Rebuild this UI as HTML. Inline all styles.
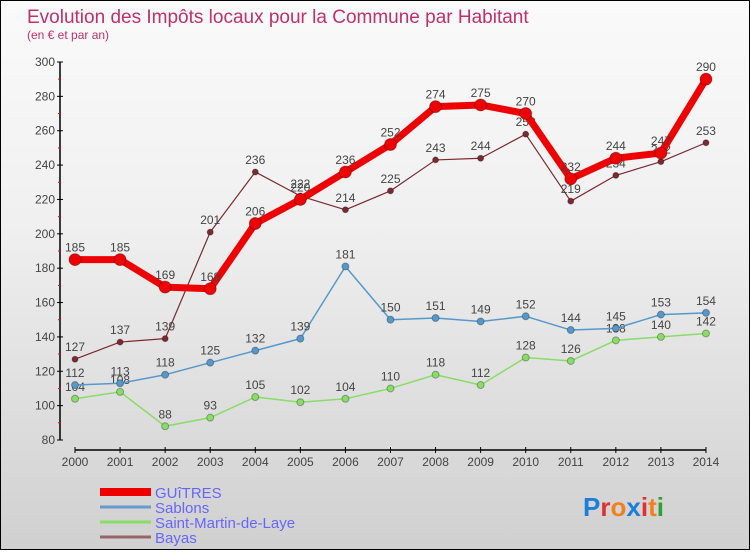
<!DOCTYPE html>
<html><head><meta charset="utf-8"><style>
body{margin:0;width:750px;height:550px;overflow:hidden;font-family:"Liberation Sans",sans-serif}
#wrap{position:relative;width:748px;height:548px;border:1px solid #000;background:linear-gradient(#fafafa,#f0f0f0 40%,#d0d0d0)}
</style></head><body>
<div id="wrap">
<svg id="chart" width="748" height="548"></svg>
</div>
<script>
const years=[2000,2001,2002,2003,2004,2005,2006,2007,2008,2009,2010,2011,2012,2013,2014];
const yTicks=[80,100,120,140,160,180,200,220,240,260,280,300];
const guitres=[185,185,169,168,206,220,236,252,274,275,270,232,244,247,290];
const sablons=[112,113,118,125,132,139,181,150,151,149,152,144,145,153,154];
const stmartin=[104,108,88,93,105,102,104,110,118,112,128,126,138,140,142];
const bayas=[127,137,139,201,236,222,214,225,243,244,258,219,234,242,253];
const seriesNames=["GUîTRES","Sablons","Saint-Martin-de-Laye","Bayas"];
const NS="http://www.w3.org/2000/svg";
const svg=document.getElementById('chart');
const x=i=>74+i*45.07;
const y=v=>439-(v-80)*(378/220);
function el(t,a,p){const e=document.createElementNS(NS,t);for(const k in a)e.setAttribute(k,a[k]);(p||svg).appendChild(e);return e;}
function txt(s,a,name){const e=el('text',a);e.textContent=s;return e;}
txt("Evolution des Impôts locaux pour la Commune par Habitant",{x:26,y:22,'font-size':19,fill:'#c0306a'},'chart-title');
txt("(en € et par an)",{x:26,y:38,'font-size':12,fill:'#c0306a'},'chart-subtitle');
// y axis
let ax=el('line',{x1:59,y1:y(300),x2:59,y2:y(80),stroke:'#000','stroke-width':1.5});

yTicks.forEach(v=>{el('line',{x1:56,y1:y(v),x2:62,y2:y(v),stroke:'#000'});
 txt(String(v),{x:54,y:y(v)+4,'font-size':12,fill:'#444','text-anchor':'end'},'y-tick-label');
 if(v<300)el('line',{x1:57,y1:y(v+10),x2:60,y2:y(v+10),stroke:'#f00'});});
let xa=el('line',{x1:x(0),y1:449,x2:x(14),y2:449,stroke:'#000','stroke-width':1.5});

years.forEach((yr,i)=>{el('line',{x1:x(i),y1:446,x2:x(i),y2:452,stroke:'#000'});
 txt(String(yr),{x:x(i),y:465,'font-size':12,fill:'#444','text-anchor':'middle'},'x-tick-label');});
function series(data,color,w,r,name,labelDy){
 const g=el('g',{});
 el('polyline',{points:data.map((v,i)=>x(i)+','+y(v)).join(' '),fill:'none',stroke:color,'stroke-width':w,'stroke-linejoin':'round'},g);
 data.forEach((v,i)=>{const c=el('circle',{cx:x(i),cy:y(v),r:r,fill:color,stroke:'rgba(0,0,0,0.3)'},g);
  
  txt(String(v),{x:x(i),y:y(v)-8,'font-size':12,fill:'#444','text-anchor':'middle'},name+'-value-label');});
}
series(bayas,'#7a2a30',1.2,3,'bayas');
series(stmartin,'#88dd66',1.5,3.5,'saint-martin');
series(sablons,'#5599cc',1.5,3.5,'sablons');
series(guitres,'#ee0000',7,6,'guitres');
const lc=['#ee0000','#6699cc','#88dd66','#996666'],lw=[8,3,3,3];
seriesNames.forEach((n,i)=>{const ly=491+i*15;
 const l=el('line',{x1:99,y1:ly,x2:150,y2:ly,stroke:lc[i],'stroke-width':lw[i]});
 txt(n,{x:154,y:ly+6,'font-size':15,fill:'#6666ff'},'legend-entry');});
const logo=[["P","#1a7fd8"],["r","#e03030"],["o","#f08020"],["x","#1a7fd8"],["i","#e03030"],["t","#f08020"],["i","#30a030"]];
let lx=582;const lg=el('text',{x:lx,y:515,'font-size':26,'font-weight':'bold'});
logo.forEach(([c,f])=>{const t=el('tspan',{fill:f},lg);t.textContent=c;});
</script>
</body></html>
